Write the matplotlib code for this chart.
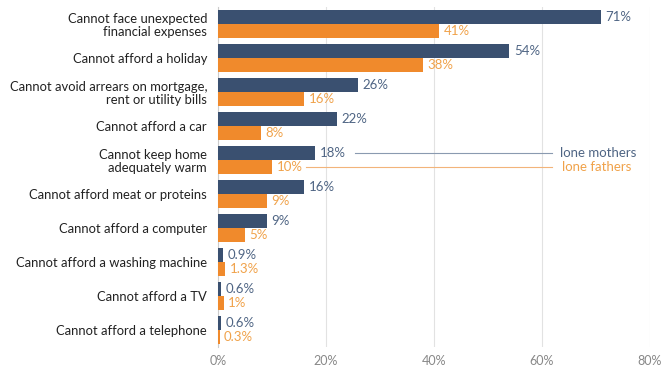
import matplotlib.pyplot as plt
import numpy as np

plt.rcParams['font.family'] = ['Lato', 'DejaVu Sans']

categories = [
    "Cannot face unexpected\nfinancial expenses",
    "Cannot afford a holiday",
    "Cannot avoid arrears on mortgage,\nrent or utility bills",
    "Cannot afford a car",
    "Cannot keep home\nadequately warm",
    "Cannot afford meat or proteins",
    "Cannot afford a computer",
    "Cannot afford a washing machine",
    "Cannot afford a TV",
    "Cannot afford a telephone",
]
mothers = [71, 54, 26, 22, 18, 16, 9, 0.9, 0.6, 0.6]
fathers = [41, 38, 16, 8, 10, 9, 5, 1.3, 1, 0.3]
mothers_lbl = ["71%", "54%", "26%", "22%", "18%", "16%", "9%", "0.9%", "0.6%", "0.6%"]
fathers_lbl = ["41%", "38%", "16%", "8%", "10%", "9%", "5%", "1.3%", "1%", "0.3%"]
xticks = [0, 20, 40, 60, 80]

blue = "#3a5070"
orange = "#f08a2c"
blue_txt = "#4f6584"
orange_txt = "#f0a24a"

fig = plt.figure(figsize=(6.65, 3.67), dpi=100)
ax = fig.add_axes([0.328, 0.0545, 0.649, 0.9265])

y = np.arange(len(categories))
h = 0.41
ax.barh(y - h / 2, mothers, height=h, color=blue, zorder=3)
ax.barh(y + h / 2, fathers, height=h, color=orange, zorder=3)

for i in range(len(categories)):
    ax.text(mothers[i] + 0.8, y[i] - h / 2, mothers_lbl[i], va='center', ha='left',
            fontsize=9.5, color=blue_txt)
    ax.text(fathers[i] + 0.8, y[i] + h / 2, fathers_lbl[i], va='center', ha='left',
            fontsize=9.5, color=orange_txt)

# legend lines pointing at the "warm" row
ax.plot([25.4, 61.9], [y[4] - h / 2, y[4] - h / 2], color="#8a9ab0", lw=0.8, zorder=4)
ax.plot([16.3, 61.9], [y[4] + h / 2, y[4] + h / 2], color="#f2b47a", lw=0.8, zorder=4)
ax.text(63.3, y[4] - h / 2, "lone mothers", va='center', ha='left', fontsize=9.5, color=blue_txt)
ax.text(63.7, y[4] + h / 2, "lone fathers", va='center', ha='left', fontsize=9.5, color=orange_txt)

ax.set_ylim(len(categories) - 0.5, -0.5)
ax.set_xlim(0, 80)
ax.set_yticks(y)
ax.set_yticklabels(categories, fontsize=9.4, color="#222222", linespacing=1.1)
ax.set_xticks(xticks)
ax.set_xticklabels([f"{t}%" for t in xticks], fontsize=9, color="#888888")
ax.tick_params(axis='both', length=0)
ax.tick_params(axis='y', pad=8)
ax.tick_params(axis='x', pad=6)

ax.grid(axis='x', color="#e2e2e2", lw=0.8, zorder=0)
for s in ['top', 'right', 'bottom']:
    ax.spines[s].set_visible(False)
ax.spines['left'].set_color("#cccccc")

fig.savefig("out.png", dpi=100)
